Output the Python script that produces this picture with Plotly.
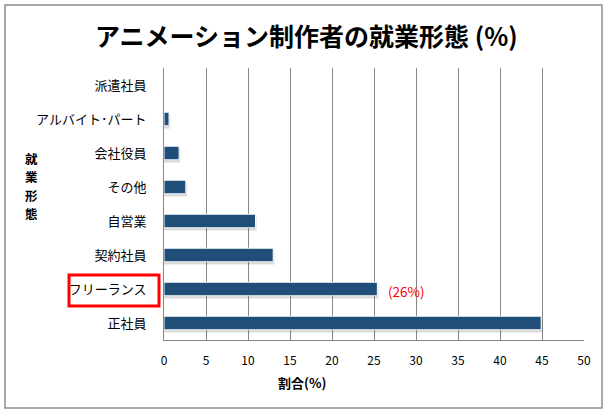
import plotly.graph_objects as go

categories = ["正社員", "フリーランス", "契約社員", "自営業", "その他", "会社役員", "アルバイト･パート", "派遣社員"]
values = [44.9, 25.4, 13.0, 10.9, 2.6, 1.8, 0.6, 0.0]
x_ticks = [0, 5, 10, 15, 20, 25, 30, 35, 40, 45, 50]

title_text = "アニメーション制作者の就業形態 (%)"
x_title = "割合(%)"
y_title = "就業形態"
note_text = "(26%)"

FONT = "Noto Sans CJK JP"
BAR = "#1f4e79"

W, H = 612, 412
L, R, T, B = 164, 584, 68, 340

def px(x):
    return (x - L) / (R - L)

def py(y):
    return (B - y) / (B - T)

fig = go.Figure()
# soft shadow below bars
fig.add_trace(go.Bar(
    y=categories, x=[v + 0.15 if v > 0 else 0 for v in values], orientation="h",
    marker=dict(color="rgba(0,0,0,0.09)", line=dict(width=0)),
    width=0.4, offset=-0.29, hoverinfo="skip", showlegend=False))
fig.add_trace(go.Bar(
    y=categories, x=[v + 0.08 if v > 0 else 0 for v in values], orientation="h",
    marker=dict(color="rgba(0,0,0,0.10)", line=dict(width=0)),
    width=0.4, offset=-0.25, hoverinfo="skip", showlegend=False))
fig.add_trace(go.Bar(
    y=categories, x=values, orientation="h",
    marker=dict(color=BAR, line=dict(color="white", width=1)),
    width=0.4, offset=-0.2, showlegend=False))

fig.update_layout(
    width=W, height=H,
    margin=dict(l=L, r=W - R, t=T, b=H - B),
    paper_bgcolor="white", plot_bgcolor="white",
    barmode="overlay",
    font=dict(family=FONT, size=12, color="black"),
    showlegend=False,
    xaxis=dict(range=[0, 50], tickvals=x_ticks, showgrid=True, gridcolor="#868686", gridwidth=1,
               showline=True, linecolor="#868686", linewidth=1, zeroline=False,
               ticks="", ticklabelstandoff=10, tickfont=dict(size=12, family=FONT),
               fixedrange=True),
    yaxis=dict(categoryorder="array", categoryarray=categories, showgrid=False,
               showline=True, linecolor="#868686", linewidth=1, ticks="",
               ticklabelstandoff=14, tickfont=dict(size=13, family=FONT), range=[-0.5, 7.5]),
)

# title
fig.add_annotation(text="<b>" + title_text + "</b>", x=px(306), y=py(35), xref="paper", yref="paper",
                   showarrow=False, font=dict(size=25, family=FONT, color="black"),
                   xanchor="center", yanchor="middle")
# y-axis title (stacked characters)
step = 18.2
for i, ch in enumerate(y_title):
    fig.add_annotation(text="<b>" + ch + "</b>", x=px(31), y=py(186 + (i - 1.5) * step),
                       xref="paper", yref="paper", showarrow=False,
                       font=dict(size=12.5, family=FONT, color="black"),
                       xanchor="center", yanchor="middle", borderpad=0)
# x-axis title
fig.add_annotation(text="<b>" + x_title + "</b>", x=px(302), y=py(382),
                   xref="paper", yref="paper", showarrow=False,
                   font=dict(size=13, family=FONT, color="black"), xanchor="center", yanchor="middle")
# red note
fig.add_annotation(text=note_text, x=values[1], y=categories[1], xref="x", yref="y",
                   xshift=29, yshift=-2, showarrow=False, font=dict(size=13.5, family=FONT, color="#ff0000"),
                   xanchor="center", yanchor="middle")

# red box around label
fig.add_shape(type="rect", xref="paper", yref="paper",
              x0=px(69), x1=px(159), y0=py(306), y1=py(275),
              line=dict(color="#ff0000", width=3))
# outer border
fig.add_shape(type="rect", xref="paper", yref="paper",
              x0=px(5), x1=px(602), y0=py(408), y1=py(5),
              line=dict(color="#8c8c8c", width=1.5))

fig.write_html("out.html")
